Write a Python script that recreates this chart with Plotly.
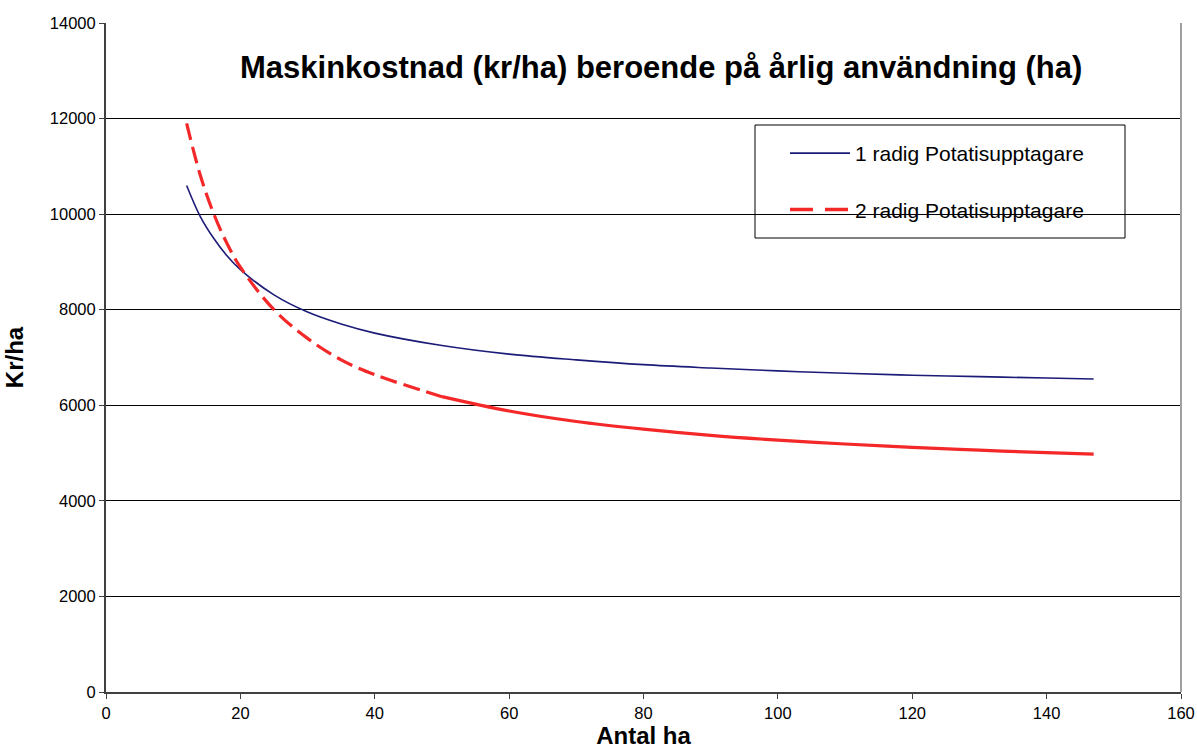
import plotly.graph_objects as go

# Data
x_ha = [12, 14, 16, 18, 20, 25, 30, 35, 40, 50, 60, 70, 80, 90, 100, 110, 120, 130, 140, 147]
rad1 = [10600, 9960, 9500, 9130, 8840, 8310, 7950, 7700, 7510, 7250, 7070, 6950, 6850, 6780,
        6720, 6670, 6630, 6600, 6570, 6550]
rad2 = [11900, 10830, 10020, 9390, 8890, 8000, 7400, 6950, 6640, 6180, 5880, 5660, 5500, 5370,
        5270, 5190, 5120, 5060, 5010, 4980]
series_names = ["1 radig Potatisupptagare", "2 radig Potatisupptagare"]
title_text = "Maskinkostnad (kr/ha) beroende på årlig användning (ha)"
x_ticks = [0, 20, 40, 60, 80, 100, 120, 140, 160]
y_ticks = [0, 2000, 4000, 6000, 8000, 10000, 12000, 14000]

FONT = "Liberation Sans, Arial, sans-serif"

# The original (Excel) dashes merge into a solid stroke where the curve flattens.
split = x_ha.index(50)

fig = go.Figure()
fig.add_trace(go.Scatter(x=x_ha, y=rad1, mode="lines", name=series_names[0],
                         line=dict(color="#1c1c78", width=1.6, shape="spline"),
                         legendgroup="a"))
fig.add_trace(go.Scatter(x=x_ha[:split + 1], y=rad2[:split + 1], mode="lines", name=series_names[1],
                         line=dict(color="#f42828", width=3.2, dash="17px,7px", shape="spline"),
                         legendgroup="b", showlegend=False))
fig.add_trace(go.Scatter(x=x_ha[split:], y=rad2[split:], mode="lines", name=series_names[1],
                         line=dict(color="#f42828", width=3.2, shape="spline"),
                         legendgroup="b", showlegend=False))
# legend-only entry with the long dash look
fig.add_trace(go.Scatter(x=[None], y=[None], mode="lines", name=series_names[1],
                         line=dict(color="#f42828", width=3.6, dash="23px,12px"),
                         legendgroup="b"))

PW, PH = 1197, 749
L, T, R, B = 106, 23, 16, 57
plot_w = PW - L - R
plot_h = PH - T - B


def px_x(px):
    return (px - L) / plot_w


def px_y(py):
    return (PH - B - py) / plot_h


# legend frame
fig.add_shape(type="rect", xref="paper", yref="paper",
              x0=px_x(755), x1=px_x(1125), y0=px_y(238), y1=px_y(125),
              line=dict(color="#000000", width=1), fillcolor="white", layer="below")
# right plot border
fig.add_shape(type="line", xref="paper", yref="paper", x0=1, x1=1, y0=0, y1=1,
              line=dict(color="#a0a0a0", width=2))

fig.update_layout(
    width=PW, height=PH,
    margin=dict(l=L, r=R, t=T, b=B),
    paper_bgcolor="white", plot_bgcolor="white",
    font=dict(family=FONT, color="black", size=16.5),
    showlegend=True,
    legend=dict(x=px_x(785), y=px_y(133), xanchor="left", yanchor="top",
                bgcolor="rgba(0,0,0,0)", borderwidth=0, font=dict(size=21, family=FONT),
                traceorder="grouped", tracegroupgap=26, itemwidth=60),
    annotations=[dict(text="<b>" + title_text + "</b>", xref="paper", yref="paper",
                      x=px_x(661), y=px_y(68), xanchor="center", yanchor="middle",
                      showarrow=False, font=dict(size=31, family=FONT))],
    xaxis=dict(range=[0, 160], tickvals=x_ticks, ticktext=[str(v) for v in x_ticks],
               ticks="outside", ticklen=5, automargin=False,
               tickcolor="#404040", showline=True, linecolor="#404040", linewidth=2,
               showgrid=False, zeroline=False, tickfont=dict(size=16.5),
               title=dict(text="<b>Antal ha</b>", font=dict(size=24), standoff=6)),
    yaxis=dict(range=[0, 14000], tickvals=y_ticks, ticktext=[str(v) for v in y_ticks],
               ticks="outside", ticklen=5, automargin=False,
               tickcolor="#404040", showline=True, linecolor="#404040", linewidth=2,
               showgrid=True, gridcolor="#000000", gridwidth=1, zeroline=False,
               tickfont=dict(size=16.5),
               title=dict(text="<b>Kr/ha</b>", font=dict(size=24), standoff=19)),
)

fig.write_html("out.html", config={"displayModeBar": False},
               post_script="document.body.style.margin='0';document.body.style.overflow='hidden';")
